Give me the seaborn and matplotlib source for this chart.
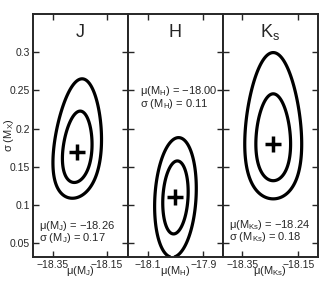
import numpy as np
import matplotlib.pyplot as plt
import seaborn as sns

# best-fit values per band (from the panel annotations)
bands = ["J", "H", "Ks"]
titles = ["J", "H", r"K$_\mathrm{s}$"]
mu_best = [-18.26, -18.00, -18.24]
sig_best = [0.17, 0.11, 0.18]
mu_txt = ["\u221218.26", "\u221218.00", "\u221218.24"]
sig_txt = ["0.17", "0.11", "0.18"]

# spread of the likelihood around the best fit
mu_err = [0.036, 0.030, 0.041]
sig_err = [0.179, 0.0315, 0.205]  # in box-cox transformed sigma
boxcox = [0.0, 1.0, 0.0]
rho = [0.2, 0.15, 0.0]
levels = [2.30, 6.18]             # 68% and 95% for two parameters

xlims = [(-18.423, -18.073), (-18.17, -17.83), (-18.42, -18.08)]
xticks = [[-18.35, -18.15], [-18.1, -17.9], [-18.35, -18.15]]
xticklabels = [["\u221218.35", "\u221218.15"], ["\u221218.1", "\u221217.9"],
               ["\u221218.35", "\u221218.15"]]
yticks = [0.05, 0.1, 0.15, 0.2, 0.25, 0.3]
yticklabels = ["0.05", "0.1", "0.15", "0.2", "0.25", "0.3"]
ylim = (0.032, 0.35)

# annotation placement (axes fraction)
txt_x = [0.06, 0.125, 0.063]
txt_y = [0.116, 0.671, 0.12]


def transform(s, lam):
    if lam == 0:
        return np.log(s)
    return (s ** lam - 1) / lam


sns.set_style("ticks")
plt.rcParams["font.family"] = ["Liberation Sans", "DejaVu Sans"]
plt.rcParams["mathtext.fontset"] = "custom"
plt.rcParams["mathtext.rm"] = "Liberation Sans"
plt.rcParams["mathtext.it"] = "Liberation Sans:italic"

fig, axes = plt.subplots(1, 3, figsize=(3.35, 2.88), dpi=100, sharey=True)
fig.subplots_adjust(left=0.0985, right=0.949, top=0.951, bottom=0.1076, wspace=0)

for i, ax in enumerate(axes):
    xx = np.linspace(xlims[i][0], xlims[i][1], 400)
    yy = np.linspace(ylim[0], ylim[1], 400)
    X, Y = np.meshgrid(xx, yy)
    dx = (X - mu_best[i]) / mu_err[i]
    dy = (transform(Y, boxcox[i]) - transform(sig_best[i], boxcox[i])) / sig_err[i]
    chi2 = (dx ** 2 - 2 * rho[i] * dx * dy + dy ** 2) / (1 - rho[i] ** 2)
    ax.contour(X, Y, chi2, levels=levels, colors="k", linewidths=2.3)

    sns.scatterplot(x=[mu_best[i]], y=[sig_best[i]], marker="+", s=130,
                    color="k", linewidth=2.5, ax=ax, zorder=5)

    ax.set_xlim(xlims[i])
    ax.set_ylim(ylim)
    ax.set_xticks(xticks[i])
    ax.set_xticklabels(xticklabels[i])
    ax.set_yticks(yticks)
    ax.tick_params(direction="in", top=True, right=True, length=4, width=1,
                   labelsize=7.5, pad=2)
    for sp in ax.spines.values():
        sp.set_linewidth(1.4)
        sp.set_visible(True)

    ax.text(0.5, 0.905, titles[i], transform=ax.transAxes, ha="center",
            va="baseline", fontsize=13)
    sub = r"$_\mathrm{" + bands[i] + "}$"
    ax.text(txt_x[i], txt_y[i], "\u03bc(M" + sub + ") = " + mu_txt[i],
            transform=ax.transAxes, fontsize=8, va="baseline")
    ax.text(txt_x[i], txt_y[i] - 0.052, "\u03c3 (M" + sub + ") = " + sig_txt[i],
            transform=ax.transAxes, fontsize=8, va="baseline")
    ax.set_xlabel("\u03bc(M" + sub + ")", fontsize=8, labelpad=-4)

axes[0].set_yticklabels(yticklabels)
axes[0].set_ylabel("\u03c3 (M$_\\mathrm{X}$)", fontsize=8, va="center")
axes[0].yaxis.set_label_coords(-0.25, 0.5)

fig.savefig("out.png", dpi=100)
